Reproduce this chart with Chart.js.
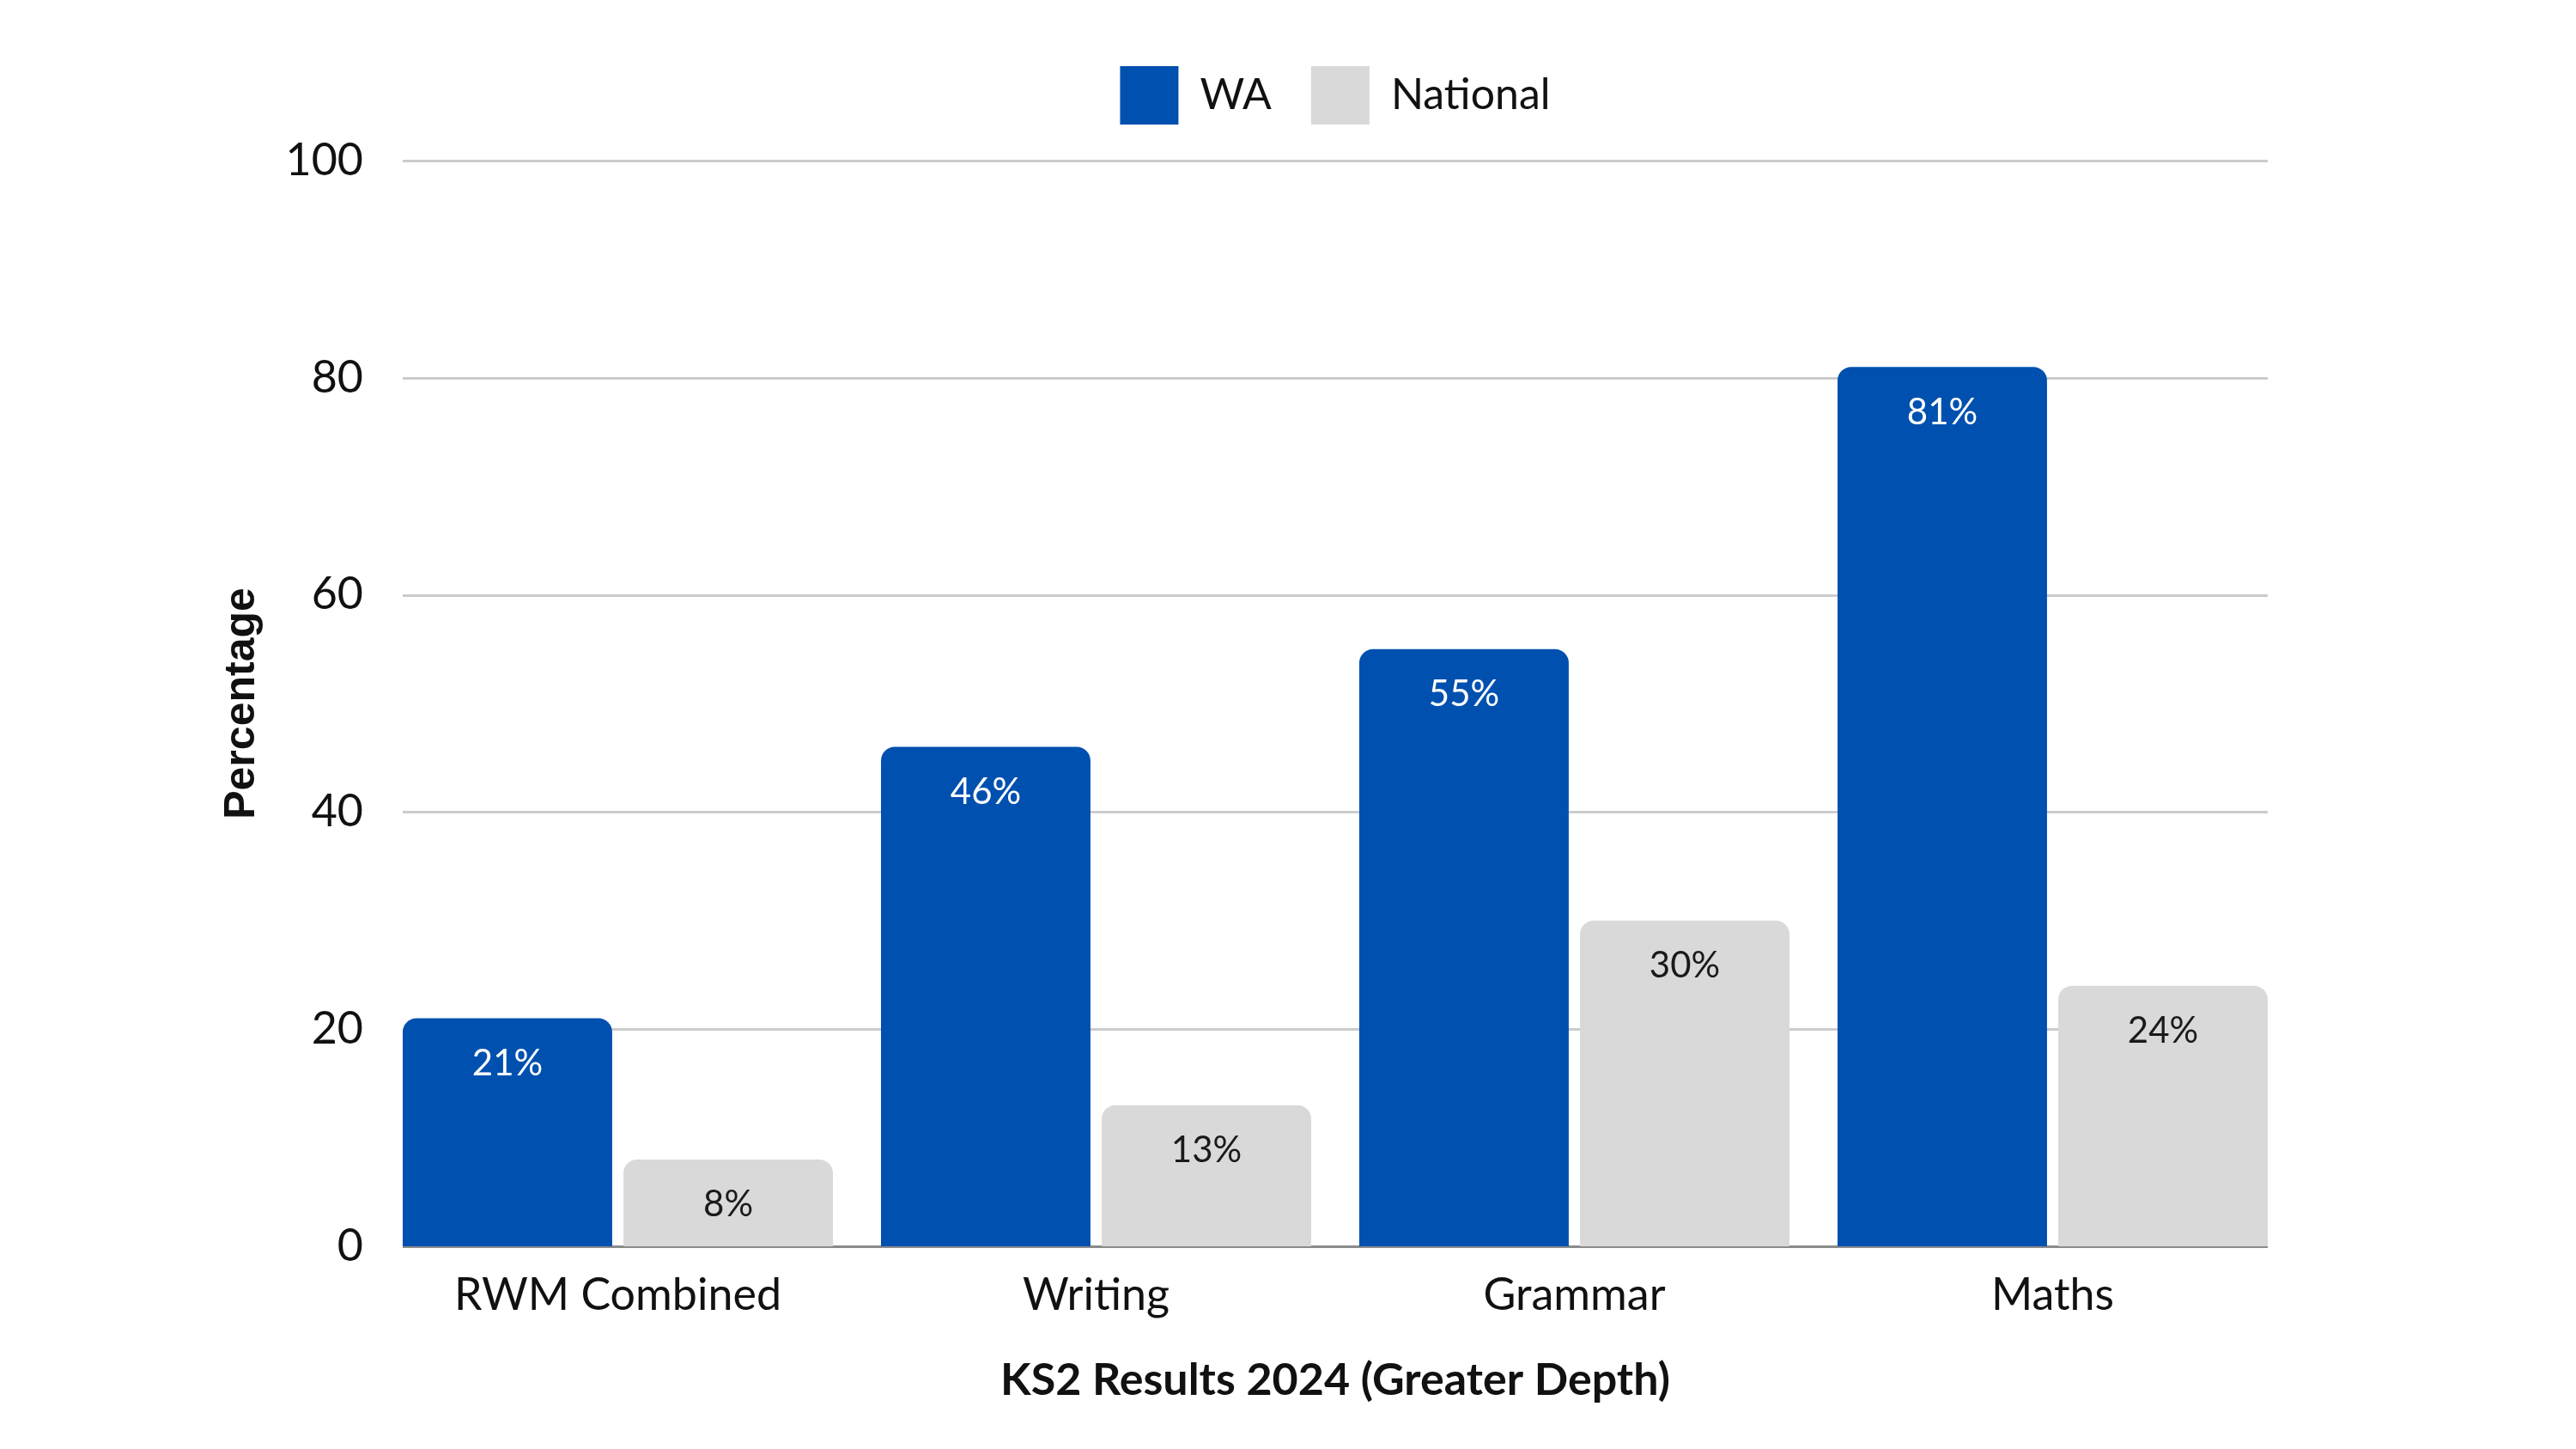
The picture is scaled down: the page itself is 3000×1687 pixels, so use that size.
<!DOCTYPE html>
<html>
<head>
<meta charset="utf-8">
<script src="https://cdn.jsdelivr.net/npm/chart.js@4/dist/chart.umd.min.js"></script>
<style>
  html, body { margin: 0; padding: 0; background: #fff; }
  #wrap { width: 3000px; height: 1687px; }
</style>
</head>
<body>
<div id="wrap"><canvas id="barChart" width="3000" height="1687"></canvas></div>
<script>
// data
const categories = ['RWM Combined', 'Writing', 'Grammar', 'Maths'];
const waValues = [21, 46, 55, 81];
const nationalValues = [8, 13, 30, 24];
const yTicks = [0, 20, 40, 60, 80, 100];

const FONT = 'Lato, "Noto Sans", sans-serif';

// legend gets extra room underneath so the plot starts lower
const legendSpace = {
    id: 'legendSpace',
    afterInit(chart) {
        const lg = chart.legend;
        if (!lg) return;
        const fit = lg.fit.bind(lg);
        lg.fit = function () {
            fit();
            this.height += 32;
        };
    }
};

// gridlines only span from the first bar to the last one
const gridLines = {
    id: 'gridLines',
    beforeDatasetsDraw(chart) {
        const c = chart.ctx;
        const y = chart.scales.y;
        const first = chart.getDatasetMeta(0).data[0];
        const lastMeta = chart.getDatasetMeta(chart.data.datasets.length - 1);
        const last = lastMeta.data[lastMeta.data.length - 1];
        const x0 = first.x - first.width / 2;
        const x1 = last.x + last.width / 2;
        c.save();
        c.lineWidth = 3;
        yTicks.forEach(t => {
            const py = Math.round(y.getPixelForValue(t)) + 0.5;
            c.strokeStyle = t === 0 ? '#8a8a8a' : '#cccccc';
            c.beginPath();
            c.moveTo(x0, py);
            c.lineTo(x1, py);
            c.stroke();
        });
        c.restore();
    }
};

// labels written inside the top of each bar
const barLabels = {
    id: 'barLabels',
    afterDatasetsDraw(chart) {
        const c = chart.ctx;
        c.save();
        c.font = '42px ' + FONT;
        c.textAlign = 'center';
        c.textBaseline = 'middle';
        chart.data.datasets.forEach((ds, i) => {
            const meta = chart.getDatasetMeta(i);
            c.fillStyle = i === 0 ? '#ffffff' : '#1a1a1a';
            meta.data.forEach((bar, j) => {
                c.fillText(ds.data[j] + '%', bar.x, bar.y + 53);
            });
        });
        c.restore();
    }
};

const ctx = document.getElementById('barChart').getContext('2d');

const chart = new Chart(ctx, {
    type: 'bar',
    data: {
        labels: categories,
        datasets: [{
            label: 'WA',
            data: waValues,
            backgroundColor: '#0050AF',
            borderRadius: { topLeft: 16, topRight: 16 },
            borderSkipped: false
        }, {
            label: 'National',
            data: nationalValues,
            backgroundColor: '#D9D9D9',
            borderRadius: { topLeft: 16, topRight: 16 },
            borderSkipped: false
        }]
    },
    options: {
        responsive: false,
        animation: false,
        devicePixelRatio: 1,
        categoryPercentage: 0.923,
        barPercentage: 0.949,
        layout: {
            padding: { top: 31, left: 248, right: 331, bottom: 45 }
        },
        plugins: {
            legend: {
                position: 'top',
                fullSize: false,
                labels: {
                    boxWidth: 68,
                    boxHeight: 68,
                    padding: 46,
                    color: '#111',
                    font: { family: FONT, size: 50 }
                }
            },
            tooltip: { enabled: false }
        },
        scales: {
            x: {
                grid: { display: false, drawTicks: false },
                border: { display: false },
                ticks: {
                    color: '#111',
                    padding: 26,
                    font: { family: FONT, size: 52 }
                },
                title: {
                    display: true,
                    text: 'KS2 Results 2024 (Greater Depth)',
                    color: '#111',
                    font: { family: FONT, size: 52, weight: 'bold' }
                },
                afterFit(scale) { scale.height = 191; }
            },
            y: {
                min: 0,
                max: 100,
                afterBuildTicks(scale) {
                    scale.ticks = yTicks.map(v => ({ value: v }));
                },
                grid: { display: false, drawTicks: false },
                border: { display: false },
                ticks: {
                    color: '#111',
                    padding: 18,
                    font: { family: FONT, size: 52 }
                },
                title: {
                    display: true,
                    text: 'Percentage',
                    color: '#111',
                    font: { family: '"Liberation Sans", Arial, sans-serif', size: 50, weight: 'bold' }
                },
                afterFit(scale) { scale.width = 193; }
            }
        }
    },
    plugins: [legendSpace, gridLines, barLabels]
});
</script>
</body>
</html>
